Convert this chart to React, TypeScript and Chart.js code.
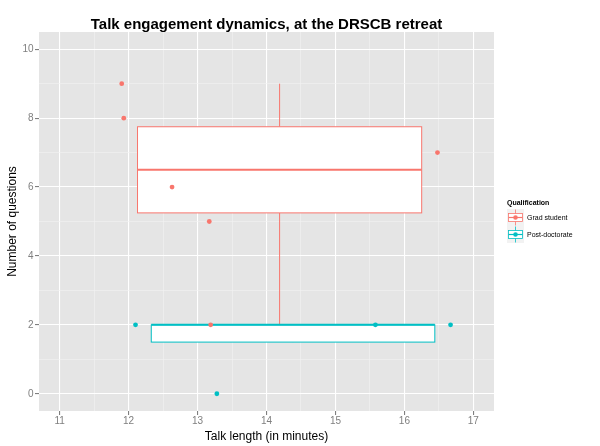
import React, { useEffect, useRef } from 'react';
import { Chart, registerables } from 'chart.js';

Chart.register(...registerables);

const groups = ['Grad student', 'Post-doctorate'];
const groupColors = ['#F8766D', '#00BFC4'];

// talk length (minutes) and number of questions, per qualification
const gradLength = [11.9, 11.93, 12.63, 13.17, 13.19, 16.48];
const gradQuestions = [9, 8, 6, 5, 2, 7];
const postLength = [12.1, 13.28, 15.58, 16.67];
const postQuestions = [2, 0, 2, 2];

const xGrid = [11, 11.5, 12, 12.5, 13, 13.5, 14, 14.5, 15, 15.5, 16, 16.5, 17];
const yGrid = [0, 1, 2, 3, 4, 5, 6, 7, 8, 9, 10];

const FONT = "'Liberation Sans', Arial, Helvetica, sans-serif";

const quantile = (sorted: number[], p: number) => {
  const pos = (sorted.length - 1) * p;
  const lo = Math.floor(pos);
  const hi = Math.ceil(pos);
  return sorted[lo] + (sorted[hi] - sorted[lo]) * (pos - lo);
};

// same stats ggplot's stat_boxplot gives for a continuous x
const boxStats = (xs: number[], ys: number[]) => {
  const s = [...ys].sort((a, b) => a - b);
  const q1 = quantile(s, 0.25);
  const med = quantile(s, 0.5);
  const q3 = quantile(s, 0.75);
  const iqr = q3 - q1;
  const inside = s.filter((v) => v >= q1 - 1.5 * iqr && v <= q3 + 1.5 * iqr);
  const xmin = Math.min(...xs);
  const xmax = Math.max(...xs);
  const mid = (xmin + xmax) / 2;
  const half = ((xmax - xmin) * 0.9) / 2;
  return { q1, med, q3, lo: inside[0], hi: inside[inside.length - 1], mid, left: mid - half, right: mid + half };
};

const groupData = [
  { xs: gradLength, ys: gradQuestions },
  { xs: postLength, ys: postQuestions },
];

const boxPlugin = {
  id: 'boxes',
  beforeDraw(chart: any) {
    const { ctx, chartArea: a } = chart;
    ctx.save();
    ctx.fillStyle = '#E5E5E5';
    ctx.fillRect(a.left, a.top, a.right - a.left, a.bottom - a.top);
    ctx.restore();
  },
  beforeDatasetsDraw(chart: any) {
    const { ctx, chartArea: a } = chart;
    const xs = chart.scales.x;
    const ys = chart.scales.y;
    ctx.save();
    ctx.beginPath();
    ctx.rect(a.left, a.top, a.right - a.left, a.bottom - a.top);
    ctx.clip();
    groupData.forEach((g, i) => {
      const st = boxStats(g.xs, g.ys);
      const col = groupColors[i];
      const cx = xs.getPixelForValue(st.mid);
      const l = xs.getPixelForValue(st.left);
      const r = xs.getPixelForValue(st.right);
      const t = ys.getPixelForValue(st.q3);
      const b = ys.getPixelForValue(st.q1);
      const m = ys.getPixelForValue(st.med);
      ctx.strokeStyle = col;
      ctx.lineWidth = 1;
      ctx.beginPath();
      ctx.moveTo(cx, t);
      ctx.lineTo(cx, ys.getPixelForValue(st.hi));
      ctx.moveTo(cx, b);
      ctx.lineTo(cx, ys.getPixelForValue(st.lo));
      ctx.stroke();
      ctx.fillStyle = '#FFFFFF';
      ctx.fillRect(l, t, r - l, b - t);
      ctx.strokeRect(l, t, r - l, b - t);
      ctx.lineWidth = 2;
      ctx.beginPath();
      ctx.moveTo(l, m);
      ctx.lineTo(r, m);
      ctx.stroke();
    });
    ctx.restore();
  },
  afterDraw(chart: any) {
    const { ctx } = chart;
    ctx.save();
    ctx.fillStyle = '#000000';
    ctx.textBaseline = 'middle';
    ctx.textAlign = 'left';
    ctx.font = `bold 7px ${FONT}`;
    ctx.fillText('Qualification', 507, 203);
    groups.forEach((name, i) => {
      const kx = 507;
      const ky = 209 + i * 17;
      const col = groupColors[i];
      ctx.fillStyle = '#F2F2F2';
      ctx.fillRect(kx, ky, 17, 17);
      ctx.strokeStyle = col;
      ctx.lineWidth = 0.8;
      ctx.beginPath();
      ctx.moveTo(kx + 8.5, ky + 0.5);
      ctx.lineTo(kx + 8.5, ky + 16.5);
      ctx.stroke();
      ctx.fillStyle = '#FFFFFF';
      ctx.fillRect(kx + 1.5, ky + 4.5, 14, 8);
      ctx.strokeRect(kx + 1.5, ky + 4.5, 14, 8);
      ctx.lineWidth = 1.2;
      ctx.beginPath();
      ctx.moveTo(kx + 1.5, ky + 8.5);
      ctx.lineTo(kx + 15.5, ky + 8.5);
      ctx.stroke();
      ctx.fillStyle = col;
      ctx.beginPath();
      ctx.arc(kx + 8.5, ky + 8.5, 2.3, 0, Math.PI * 2);
      ctx.fill();
      ctx.fillStyle = '#000000';
      ctx.font = `7px ${FONT}`;
      ctx.fillText(name, 527, ky + 8.7);
    });
    ctx.restore();
  },
};

const App: React.FC = () => {
  const canvasRef = useRef<HTMLCanvasElement>(null);

  useEffect(() => {
    if (!canvasRef.current) return;
    const chart = new Chart(canvasRef.current, {
      type: 'scatter',
      data: {
        datasets: [
          {
            label: groups[0],
            data: gradLength.map((x, i) => ({ x, y: gradQuestions[i] })),
            backgroundColor: groupColors[0],
            borderWidth: 0,
            pointRadius: 2.4,
          },
          {
            label: groups[1],
            data: postLength.map((x, i) => ({ x, y: postQuestions[i] })),
            backgroundColor: groupColors[1],
            borderWidth: 0,
            pointRadius: 2.4,
          },
        ],
      },
      options: {
        responsive: false,
        animation: false,
        layout: { padding: { left: 0, right: 106, top: 0, bottom: 0 } },
        plugins: {
          legend: { display: false },
          tooltip: { enabled: false },
          title: {
            display: true,
            text: 'Talk engagement dynamics, at the DRSCB retreat',
            fullSize: false,
            color: '#000000',
            font: { family: FONT, size: 15, weight: 'bold', lineHeight: 1 },
            padding: { top: 17, bottom: 0 },
          },
        },
        scales: {
          x: {
            type: 'linear',
            min: 10.7,
            max: 17.3,
            afterBuildTicks: (scale: any) => {
              scale.ticks = xGrid.map((value) => ({ value }));
            },
            afterFit: (scale: any) => {
              scale.height = 35;
            },
            border: { display: false },
            grid: {
              color: (c: any) => (c.tick && c.tick.value % 1 === 0 ? '#FFFFFF' : '#F2F2F2'),
              lineWidth: (c: any) => (c.tick && c.tick.value % 1 === 0 ? 1.1 : 0.6),
              tickColor: (c: any) => (c.tick && c.tick.value % 1 === 0 ? '#7F7F7F' : 'rgba(0,0,0,0)'),
              tickLength: 4,
            },
            ticks: {
              autoSkip: false,
              maxRotation: 0,
              padding: 0,
              color: '#7F7F7F',
              font: { family: FONT, size: 10 },
              callback: (v: any) => (Number(v) % 1 === 0 ? String(v) : ''),
            },
            title: {
              display: true,
              text: 'Talk length (in minutes)',
              color: '#000000',
              font: { family: FONT, size: 12 },
              padding: { top: 0, bottom: 2 },
            },
          },
          y: {
            type: 'linear',
            min: -0.5,
            max: 10.5,
            afterBuildTicks: (scale: any) => {
              scale.ticks = yGrid.map((value) => ({ value }));
            },
            afterFit: (scale: any) => {
              scale.width = 39;
            },
            border: { display: false },
            grid: {
              color: (c: any) => (c.tick && c.tick.value % 2 === 0 ? '#FFFFFF' : '#F2F2F2'),
              lineWidth: (c: any) => (c.tick && c.tick.value % 2 === 0 ? 1.1 : 0.6),
              tickColor: (c: any) => (c.tick && c.tick.value % 2 === 0 ? '#7F7F7F' : 'rgba(0,0,0,0)'),
              tickLength: 4,
            },
            ticks: {
              autoSkip: false,
              padding: 1.5,
              color: '#7F7F7F',
              font: { family: FONT, size: 10 },
              callback: (v: any) => (Number(v) % 2 === 0 ? String(v) : ''),
            },
            title: {
              display: true,
              text: 'Number of questions',
              color: '#000000',
              font: { family: FONT, size: 12 },
              padding: { top: 5, bottom: 0 },
            },
          },
        },
      },
      plugins: [boxPlugin],
    });
    return () => chart.destroy();
  }, []);

  return (
    <div style={{ position: 'absolute', left: 0, top: 0, width: 600, height: 446, background: '#FFFFFF' }}>
      <canvas ref={canvasRef} width={600} height={446} style={{ width: 600, height: 446 }} />
    </div>
  );
};

export default App;
